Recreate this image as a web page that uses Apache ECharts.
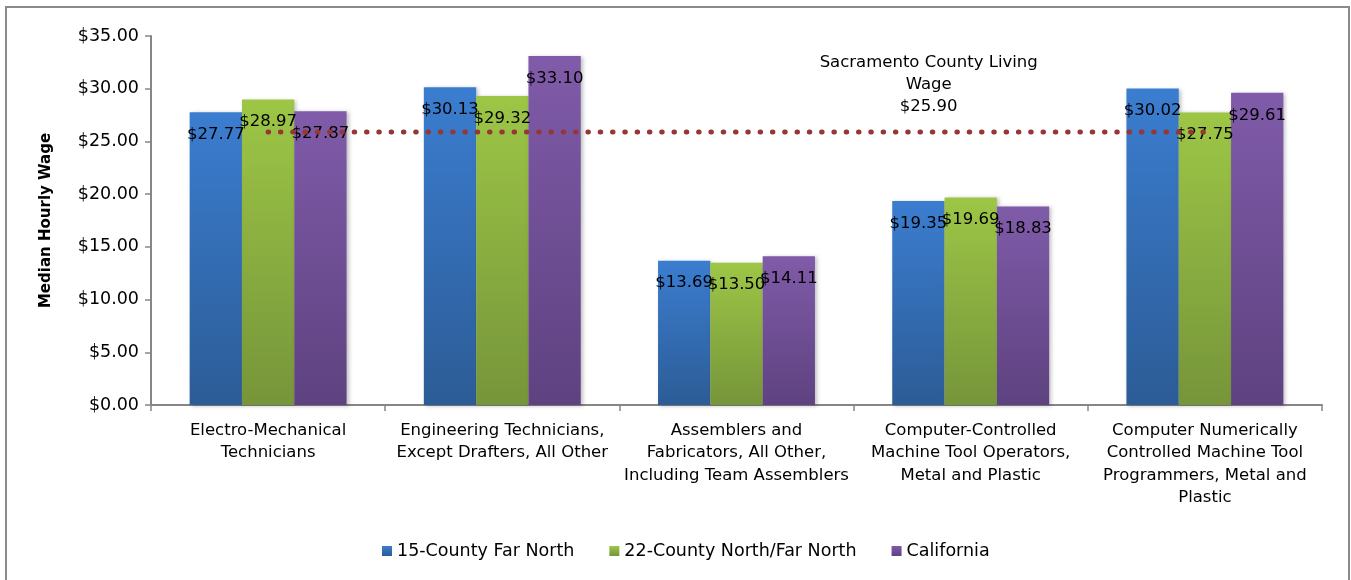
<!DOCTYPE html>
<html>
<head>
<meta charset="utf-8">
<script src="https://cdn.jsdelivr.net/npm/echarts@6/dist/echarts.min.js"></script>
<style>
  html, body { margin: 0; padding: 0; background: #fff; }
  #chart { width: 1351px; height: 580px; }
</style>
</head>
<body>
<div id="chart"></div>
<script>
const categories = [
  "Electro-Mechanical\nTechnicians",
  "Engineering Technicians,\nExcept Drafters, All Other",
  "Assemblers and\nFabricators, All Other,\nIncluding Team Assemblers",
  "Computer-Controlled\nMachine Tool Operators,\nMetal and Plastic",
  "Computer Numerically\nControlled Machine Tool\nProgrammers, Metal and\nPlastic"
];
const seriesNames = ["15-County Far North", "22-County North/Far North", "California"];
const farNorth15 = [27.77, 30.13, 13.69, 19.35, 30.02];
const northFarNorth22 = [28.97, 29.32, 13.50, 19.69, 27.75];
const california = [27.87, 33.10, 14.11, 18.83, 29.61];
const livingWage = 25.90;
const livingWageLabel = "Sacramento County Living\nWage\n$25.90";

const FONT = "DejaVu Sans";
const grad = (top, bottom) => new echarts.graphic.LinearGradient(0, 0, 0, 1, [
  { offset: 0, color: top }, { offset: 1, color: bottom }
]);
const colors = [
  grad("#3b7dd0", "#2c5c96"),
  grad("#9dc646", "#76953a"),
  grad("#805ba9", "#5e4280")
];

function barSeries(name, data, color) {
  return {
    name: name,
    type: "bar",
    data: data,
    barGap: "0%",
    barCategoryGap: "33%",
    itemStyle: { color: color, shadowColor: "rgba(0,0,0,0.25)", shadowBlur: 4, shadowOffsetX: 2, shadowOffsetY: 1 },
    label: {
      show: true,
      position: "insideTop",
      distance: 14,
      color: "#000",
      fontFamily: FONT,
      fontSize: 16.5,
      formatter: p => "$" + p.value.toFixed(2)
    },
    z: 2
  };
}

const chart = echarts.init(document.getElementById("chart"));
chart.setOption({
  animation: false,
  textStyle: { fontFamily: FONT },
  grid: { left: 151, right: 29, top: 36, bottom: 175 },
  legend: {
    data: seriesNames,
    left: 377,
    top: 537,
    icon: "rect",
    itemWidth: 10,
    itemHeight: 10,
    itemGap: 35,
    textStyle: { fontFamily: FONT, fontSize: 17.5, color: "#000" }
  },
  xAxis: {
    type: "category",
    data: categories,
    axisLine: { lineStyle: { color: "#868686", width: 2 } },
    axisTick: { show: true, length: 6, lineStyle: { color: "#868686", width: 1.5 } },
    axisLabel: {
      interval: 0,
      color: "#000",
      fontFamily: FONT,
      fontSize: 16.5,
      lineHeight: 22.5,
      margin: 14
    }
  },
  yAxis: {
    type: "value",
    min: 0,
    max: 35,
    interval: 5,
    name: "Median Hourly Wage",
    nameLocation: "middle",
    nameRotate: 90,
    nameGap: 97,
    nameTextStyle: { fontFamily: FONT, fontSize: 15, fontWeight: "bold", color: "#000" },
    axisLine: { show: true, lineStyle: { color: "#868686", width: 2 } },
    axisTick: { show: true, length: 6, lineStyle: { color: "#868686", width: 1.5 } },
    splitLine: { show: false },
    axisLabel: {
      color: "#000",
      fontFamily: FONT,
      fontSize: 17.5,
      margin: 12,
      formatter: v => "$" + v.toFixed(2)
    }
  },
  series: [
    barSeries(seriesNames[0], farNorth15, colors[0]),
    barSeries(seriesNames[1], northFarNorth22, colors[1]),
    barSeries(seriesNames[2], california, colors[2]),
    {
      name: "Living Wage",
      type: "line",
      data: categories.map(() => livingWage),
      symbol: "circle",
      symbolSize: 0.01,
      showSymbol: true,
      itemStyle: { color: "#953735" },
      label: {
        show: true,
        position: "top",
        distance: 14,
        offset: [-42, 0],
        formatter: p => p.dataIndex === 3 ? livingWageLabel : "",
        color: "#000",
        fontFamily: FONT,
        fontSize: 16.5,
        lineHeight: 22,
        align: "center"
      },
      lineStyle: { color: "#953735", width: 5, type: [0.5, 11.8], cap: "round" },
      z: 3
    }
  ],
  graphic: [{
    type: "rect",
    shape: { x: 6, y: 7, width: 1343, height: 600 },
    style: { fill: "none", stroke: "#8a8a8a", lineWidth: 2 },
    silent: true,
    z: -1
  }]
});
</script>
</body>
</html>
